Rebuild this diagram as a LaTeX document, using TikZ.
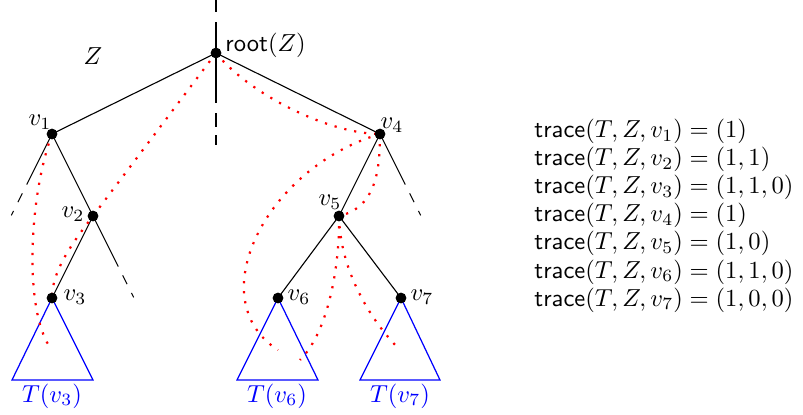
\documentclass[tikz,border=0pt]{standalone}
\usepackage{tikz}
\usetikzlibrary{positioning, backgrounds}
\definecolor{trailred}{HTML}{FF0000}
\definecolor{treeblue}{HTML}{0000FF}
\tikzset{
  vtx/.style   = {circle, fill=black, inner sep=0pt, minimum size=4.4pt},
  edge/.style  = {draw=black, line width=0.45pt},
  stub/.style  = {edge, dash pattern=on 23pt off 4pt on 4pt off 4pt on 2pt},
  cut/.style   = {edge, dash pattern=on 4.9pt off 4.1pt on 33pt off 4.1pt on 5.7pt off 3.3pt on 4.1pt},
  walk/.style  = {draw=trailred, line width=0.9pt, dash pattern=on 0.9pt off 3.2pt},
  subt/.style  = {draw=treeblue, line width=0.5pt},
  lab/.style   = {inner sep=0pt, font=\normalsize},
  sublab/.style= {lab, text=treeblue},
  tr/.style    = {inner sep=0pt, anchor=base west, font=\fontsize{10.35}{12}\selectfont},
}

\begin{document}
\begin{tikzpicture}[x=0.0143cm, y=-0.0143cm]
\useasboundingbox (0,0) rectangle (803,415);

% tree nodes
\node[vtx] (root) at (216,53) {};
\node[vtx] (v1) at (52,134) {};
\node[vtx] (v2) at (93,216) {};
\node[vtx] (v3) at (52,298) {};
\node[vtx] (v4) at (380,134) {};
\node[vtx] (v5) at (339,216) {};
\node[vtx] (v6) at (278,298) {};
\node[vtx] (v7) at (401,298) {};

% loose ends
\coordinate (top) at (216,0);
\coordinate (bot) at (216,145);
\coordinate (x1) at (11,216);
\coordinate (x2) at (134,298);
\coordinate (x4) at (421,216);

% ends of the walks inside the subtrees
\coordinate (e3) at (52,350);
\coordinate (e6a) at (278,350);
\coordinate (e6b) at (300,360);
\coordinate (e7) at (400,350);

% labels
\node[lab] (zl) at (93,56) {$Z$};
\node[lab, anchor=west] (rootl) at (225,45) {$\mathsf{root}(Z)$};
\node[lab] (v1l) at (40,122) {$v_1$};
\node[lab] (v2l) at (73,214) {$v_2$};
\node[lab] (v3l) at (75,297) {$v_3$};
\node[lab] (v4l) at (392,125) {$v_4$};
\node[lab] (v5l) at (330,202) {$v_5$};
\node[lab] (v6l) at (299,297) {$v_6$};
\node[lab] (v7l) at (422,297) {$v_7$};

\begin{scope}[on background layer]
% edges
\draw[cut] (top) -- (bot);
\draw[edge] (v1.center) -- (root.center) -- (v4.center);
\draw[edge] (v1.center) -- (v2.center) -- (v3.center);
\draw[edge] (v4.center) -- (v5.center) -- (v6.center);
\draw[edge] (v5.center) -- (v7.center);
\draw[stub] (v1.center) -- (x1);
\draw[stub] (v2.center) -- (x2);
\draw[stub] (v4.center) -- (x4);

% subtrees
\draw[subt] (v3.center) -- ++(-40,82) -- ++(81,0) -- cycle;
\draw[subt] (v6.center) -- ++(-41,82) -- ++(81,0) -- cycle;
\draw[subt] (v7.center) -- ++(-41,82) -- ++(80,0) -- cycle;

% walks
\draw[walk] (v1.center) .. controls (28,200) and (24,315) .. (e3);
\draw[walk] (root.center) -- (v2.center) .. controls (70,246) and (52,272) .. (v3.center);
\draw[walk] (root.center) .. controls (250,95) and (330,134) .. (v4.center);
\draw[walk] (v4.center) .. controls (265,168) and (200,300) .. (e6a);
\draw[walk] (v4.center) .. controls (380,175) and (374,208) .. (v5.center);
\draw[walk] (v5.center) .. controls (340,260) and (330,330) .. (e6b);
\draw[walk] (v5.center) .. controls (340,270) and (370,320) .. (e7);
\end{scope}

\node[sublab] (t3) at (52,396) {$T(v_3)$};
\node[sublab] (t6) at (277,396) {$T(v_6)$};
\node[sublab] (t7) at (400,396) {$T(v_7)$};

% traces
\foreach \i/\val in {1/{(1)}, 2/{(1,1)}, 3/{(1,1,0)}, 4/{(1)}, 5/{(1,0)}, 6/{(1,1,0)}, 7/{(1,0,0)}}
  \node[tr] (tr\i) at (534,{138+28*(\i-1)}) {$\mathsf{trace}(T,Z,v_{\i}) = \val$};

\end{tikzpicture}
\end{document}
